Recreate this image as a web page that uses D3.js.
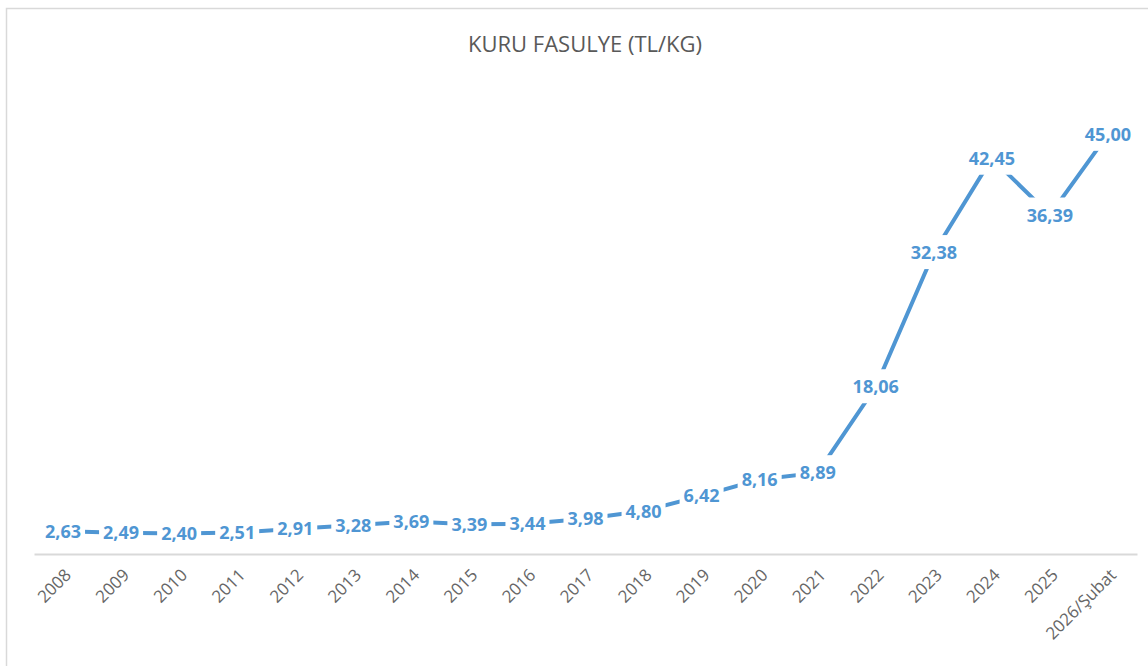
<!DOCTYPE html>
<html>
<head>
<meta charset="utf-8">
<script src="https://cdn.jsdelivr.net/npm/d3@7"></script>
<style>
  body { margin: 0; background: #fff; }
  svg { display: block; }
</style>
</head>
<body>
<svg id="chart" width="1148" height="666"></svg>
<script>
// veriler
const years = ['2008', '2009', '2010', '2011', '2012', '2013', '2014', '2015', '2016', '2017',
  '2018', '2019', '2020', '2021', '2022', '2023', '2024', '2025', '2026/Şubat']
const prices = [2.63, 2.49, 2.40, 2.51, 2.91, 3.28, 3.69, 3.39, 3.44, 3.98,
  4.80, 6.42, 8.16, 8.89, 18.06, 32.38, 42.45, 36.39, 45.00]
const title = 'KURU FASULYE (TL/KG)'

const svg = d3.select('#chart')
const blue = '#4f96d3'
const fmt = v => d3.format('.2f')(v).replace('.', ',')

// çerçeve (sağ ve alt kenar görünmüyor)
svg.append('rect')
  .attr('x', 6.5).attr('y', 8.5)
  .attr('width', 1200).attr('height', 700)
  .attr('fill', '#fff')
  .attr('stroke', '#d9d9d9')
  .attr('stroke-width', 1.5)

svg.append('text')
  .attr('x', 585).attr('y', 52)
  .attr('text-anchor', 'middle')
  .attr('font-family', 'Open Sans, sans-serif')
  .attr('font-size', 22)
  .attr('fill', '#595959')
  .text(title)

const x = d3.scaleBand().domain(years).range([34, 1137])
const y = d3.scaleLinear().domain([0, 50]).range([556, 87.5])
const cx = d => x(d) + x.bandwidth() / 2

// x ekseni
const xAxis = svg.append('g')
  .attr('transform', 'translate(0,554)')
  .call(d3.axisBottom(x).tickSize(0).tickPadding(0))
xAxis.select('.domain').attr('stroke', '#d9d9d9').attr('stroke-width', 2)
xAxis.selectAll('text')
  .attr('font-family', 'Open Sans, sans-serif')
  .attr('font-size', 17)
  .attr('fill', '#666')
  .attr('text-anchor', 'end')
  .attr('dy', '0.35em')
  .attr('transform', 'translate(5,18) rotate(-45)')

// çizgi
const line = d3.line().x((d, i) => cx(years[i])).y(d => y(d))
svg.append('path')
  .datum(prices)
  .attr('d', line)
  .attr('fill', 'none')
  .attr('stroke', blue)
  .attr('stroke-width', 4)

// etiketler (arkası beyaz, çizgiyi keser)
const lbl = svg.append('g').selectAll('g')
  .data(prices)
  .enter()
  .append('g')
  .attr('transform', (d, i) => 'translate(' + cx(years[i]) + ',' + y(d) + ')')
lbl.append('text')
  .attr('text-anchor', 'middle')
  .attr('dy', '0.36em')
  .attr('font-family', 'Open Sans, sans-serif')
  .attr('font-weight', 'bold')
  .attr('font-size', 18)
  .attr('fill', blue)
  .text(d => fmt(d))
lbl.each(function () {
  const g = d3.select(this)
  const b = g.select('text').node().getBBox()
  g.insert('rect', 'text')
    .attr('x', b.x - 4).attr('y', b.y - 5)
    .attr('width', b.width + 8).attr('height', b.height + 10)
    .attr('fill', '#fff')
})
</script>
</body>
</html>
